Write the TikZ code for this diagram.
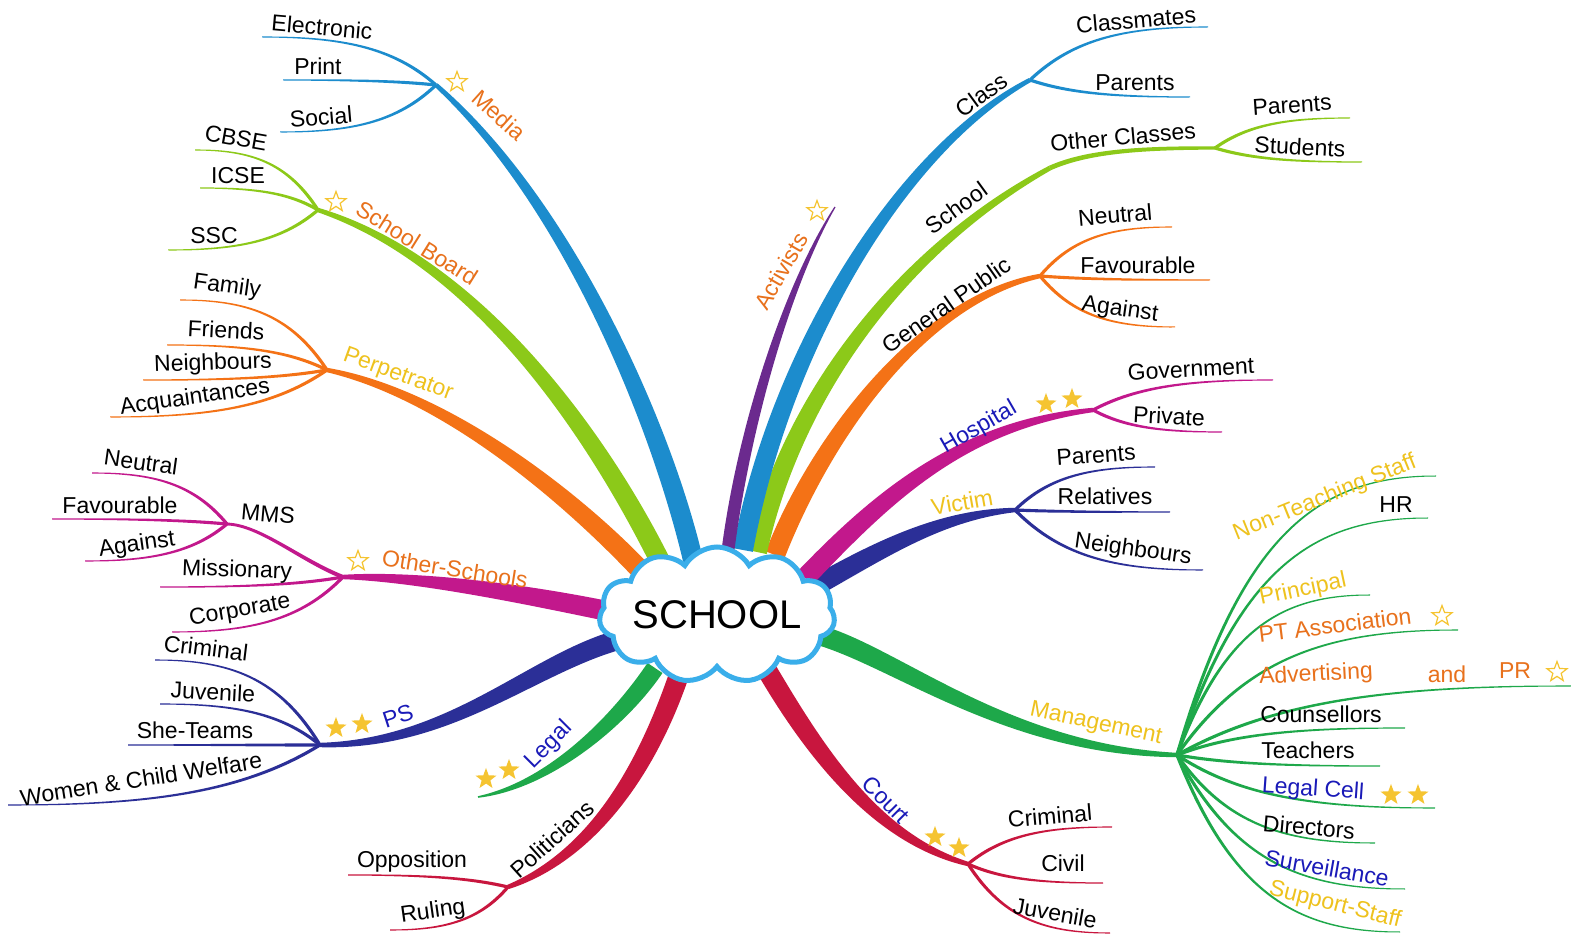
\documentclass[tikz,border=0pt]{standalone}
\usepackage{fontspec}
\setmainfont{Liberation Sans}
\usetikzlibrary{calc,shapes.symbols,shapes.geometric}
\definecolor{cBlue}{HTML}{1C8CCD}
\definecolor{cLime}{HTML}{8CC919}
\definecolor{cOrange}{HTML}{F47216}
\definecolor{cMag}{HTML}{C2188C}
\definecolor{cNavy}{HTML}{2B2F97}
\definecolor{cGreen}{HTML}{1EA84A}
\definecolor{cRed}{HTML}{C8163E}
\definecolor{cPurple}{HTML}{6B2A8E}
\definecolor{tOrange}{HTML}{E8711C}
\definecolor{tYellow}{HTML}{EEC21E}
\definecolor{tBlue}{HTML}{1A1AB8}
\definecolor{starY}{HTML}{F5C431}
\definecolor{cloudC}{HTML}{3AAEEA}
% tapered branch: P0, P1, P2, P3, half width at P0, at P2, at P3, colour
\newcommand\mmbr[8]{%
  \path (#1) coordinate (q0) (#2) coordinate (q1) (#3) coordinate (q2) (#4) coordinate (q3);
  \path ($(q0)!#5!90:(q1)$) coordinate (a0) ($(q0)!#5!-90:(q1)$) coordinate (b0)
        ($(q3)!#7!-90:(q2)$) coordinate (a3) ($(q3)!#7!90:(q2)$) coordinate (b3)
        ($(q3)!#6!-90:(q2)$) coordinate (m3) ($(q3)!#6!90:(q2)$) coordinate (n3);
  \fill[#8] (a0) .. controls ($(q1)+(a0)-(q0)$) and ($(q2)+(m3)-(q3)$) .. (a3)
     -- (b3) .. controls ($(q2)+(n3)-(q3)$) and ($(q1)+(b0)-(q0)$) .. (b0) -- cycle;
}
% thin sub branch: hub, end name, end position, colour
\newcommand\mmsub[4]{%
  \coordinate (#2) at (#3);
  \path let \p1=(#1), \p2=(#2) in
    ({\x1+0.25*(\x2-\x1)},{\y1+0.8*(\y2-\y1)}) coordinate (c1)
    ({\x1+0.55*(\x2-\x1)},{\y2}) coordinate (c2);
  \mmbr{#1}{c1}{c2}{#2}{0.8pt}{0.45pt}{0.25pt}{#4}%
}
\begin{document}
\begin{tikzpicture}[x=0.5pt,y=-0.5pt,
  lbl/.style={inner sep=0pt, font=\fontsize{11.5}{13.8}\selectfont},
  lo/.style={lbl,text=tOrange}, ly/.style={lbl,text=tYellow}, lb/.style={lbl,text=tBlue},
  sf/.style={star,star points=5,star point ratio=2.4,fill=starY,inner sep=0pt,minimum size=11pt},
  so/.style={star,star points=5,star point ratio=2.4,draw=starY,line width=0.6pt,inner sep=0pt,minimum size=10.5pt}]
\useasboundingbox (0,0) rectangle (1571,935);
\fill[white] (0,0) rectangle (1571,935);
% hubs
\coordinate (hMedia) at (436,85);
\coordinate (hBoard) at (318,210);
\coordinate (hPerp) at (327,370);
\coordinate (hOther) at (343,577);
\coordinate (hMMS) at (227,524);
\coordinate (hPS) at (320,745);
\coordinate (eLegal) at (478,797);
\coordinate (hPol) at (508,887);
\coordinate (hCourt) at (968,864);
\coordinate (hMgmt) at (1177,755);
\coordinate (hVictim) at (1015,510);
\coordinate (hHosp) at (1093,410);
\coordinate (hGP) at (1040,276);
\coordinate (hSchool) at (1050,168);
\coordinate (hOC) at (1215,148);
\coordinate (hClass) at (1030,80);
\coordinate (eAct) at (835,207);
% main branches
\mmbr{693,560}{660,420}{565,200}{hMedia}{5pt}{3pt}{1.1pt}{cBlue}
\mmbr{662,565}{600,440}{480,262}{hBoard}{5pt}{3pt}{1.1pt}{cLime}
\mmbr{645,575}{580,505}{450,395}{hPerp}{5pt}{3pt}{1.1pt}{cOrange}
\mmbr{612,612}{530,595}{420,576}{hOther}{5pt}{3pt}{1.1pt}{cMag}
\mmbr{618,640}{530,665}{450,745}{hPS}{5pt}{3pt}{1.1pt}{cNavy}
\mmbr{655,668}{620,720}{550,785}{eLegal}{4.5pt}{2.2pt}{0.4pt}{cGreen}
\mmbr{680,672}{640,790}{580,860}{hPol}{5pt}{3pt}{1.1pt}{cRed}
\mmbr{768,672}{820,760}{880,840}{hCourt}{5pt}{3pt}{1.1pt}{cRed}
\mmbr{822,636}{900,660}{1010,750}{hMgmt}{5pt}{3pt}{1.1pt}{cGreen}
\mmbr{812,588}{880,550}{940,515}{hVictim}{5pt}{3pt}{1.1pt}{cNavy}
\mmbr{805,578}{880,500}{960,425}{hHosp}{5pt}{3pt}{1.1pt}{cMag}
\mmbr{775,555}{820,440}{920,300}{hGP}{5pt}{3pt}{1.1pt}{cOrange}
\mmbr{757,552}{790,400}{900,250}{hSchool}{5pt}{2.8pt}{1.2pt}{cLime}
\mmbr{hSchool}{1090,150}{1150,148}{hOC}{1.2pt}{1pt}{0.8pt}{cLime}
\mmbr{743,550}{780,350}{900,150}{hClass}{5pt}{3pt}{1.1pt}{cBlue}
\mmbr{728,550}{745,420}{790,280}{eAct}{3.2pt}{1.6pt}{0.3pt}{cPurple}
% sub branches
\mmsub{hMedia}{eElec}{262,37}{cBlue}
\mmsub{hMedia}{ePrint}{283,80}{cBlue}
\mmsub{hMedia}{eSocial}{280,132}{cBlue}
\mmsub{hBoard}{eCBSE}{195,150}{cLime}
\mmsub{hBoard}{eICSE}{200,188}{cLime}
\mmsub{hBoard}{eSSC}{168,250}{cLime}
\mmsub{hPerp}{eFam}{180,300}{cOrange}
\mmsub{hPerp}{eFri}{167,345}{cOrange}
\mmsub{hPerp}{eNei}{143,380}{cOrange}
\mmsub{hPerp}{eAcq}{110,417}{cOrange}
\mmbr{hOther}{300,560}{260,525}{hMMS}{1pt}{0.8pt}{0.7pt}{cMag}
\mmsub{hMMS}{eNeuL}{92,473}{cMag}
\mmsub{hMMS}{eFavL}{52,519}{cMag}
\mmsub{hMMS}{eAgaL}{85,561}{cMag}
\mmsub{hOther}{eMiss}{160,587}{cMag}
\mmsub{hOther}{eCorp}{172,632}{cMag}
\mmsub{hPS}{eCrimL}{155,660}{cNavy}
\mmsub{hPS}{eJuvL}{160,704}{cNavy}
\mmsub{hPS}{eShe}{128,745}{cNavy}
\mmsub{hPS}{eWomen}{8,805}{cNavy}
\mmsub{hPol}{eOpp}{348,875}{cRed}
\mmsub{hPol}{eRul}{390,930}{cRed}
\mmsub{hCourt}{eCrimR}{1112,827}{cRed}
\mmsub{hCourt}{eCivil}{1103,883}{cRed}
\mmsub{hCourt}{eJuvR}{1110,933}{cRed}
\mmsub{hMgmt}{eNTS}{1436,476}{cGreen}
\mmsub{hMgmt}{eHR}{1428,518}{cGreen}
\mmsub{hMgmt}{ePrin}{1370,595}{cGreen}
\mmsub{hMgmt}{ePTA}{1458,630}{cGreen}
\mmsub{hMgmt}{eAdv}{1571,686}{cGreen}
\mmsub{hMgmt}{eCoun}{1405,728}{cGreen}
\mmsub{hMgmt}{eTeach}{1380,766}{cGreen}
\mmsub{hMgmt}{eLegC}{1435,808}{cGreen}
\mmsub{hMgmt}{eDir}{1375,843}{cGreen}
\mmsub{hMgmt}{eSurv}{1405,889}{cGreen}
\mmsub{hMgmt}{eSupp}{1400,932}{cGreen}
\mmsub{hVictim}{eParV}{1155,467}{cNavy}
\mmsub{hVictim}{eRel}{1170,512}{cNavy}
\mmsub{hVictim}{eNeiV}{1203,570}{cNavy}
\mmsub{hHosp}{eGov}{1273,380}{cMag}
\mmsub{hHosp}{ePriv}{1222,432}{cMag}
\mmsub{hGP}{eNeuR}{1172,227}{cOrange}
\mmsub{hGP}{eFavR}{1210,280}{cOrange}
\mmsub{hGP}{eAgaR}{1175,327}{cOrange}
\mmsub{hOC}{eParOC}{1350,118}{cLime}
\mmsub{hOC}{eStud}{1362,162}{cLime}
\mmsub{hClass}{eMates}{1208,27}{cBlue}
\mmsub{hClass}{eParC}{1190,97}{cBlue}
% centre
\node[cloud, cloud puffs=11, cloud puff arc=120, cloud ignores aspect, draw=cloudC, line width=2.5pt, fill=white,
      minimum width=112pt, minimum height=68pt, inner sep=0pt, font=\fontsize{20}{24}\selectfont] (school) at (717,615) {SCHOOL};
% main labels
\node[lo, rotate=-42] (tMedia) at (499,115) {Media};
\node[so] (sMedia) at (457,82) {};
\node[lo, rotate=-32] (tBoard) at (417,243) {School Board};
\node[so] (sBoard) at (336,202) {};
\node[ly, rotate=-20] (tPerp) at (398,375) {Perpetrator};
\node[lo, rotate=-9] (tOther) at (455,569) {Other-Schools};
\node[so] (sOther) at (358,561) {};
\node[lb, rotate=18] (tPS) at (398,716) {PS};
\node[sf] (sPS1) at (336,728) {};
\node[sf] (sPS2) at (362,724) {};
\node[lb, rotate=45] (tLegal) at (549,745) {Legal};
\node[sf] (sLeg1) at (486,779) {};
\node[sf] (sLeg2) at (509,770) {};
\node[lbl, rotate=42] (tPol) at (552,839) {Politicians};
\node[lb, rotate=-45] (tCourt) at (886,800) {Court};
\node[sf] (sCourt1) at (935,837) {};
\node[sf] (sCourt2) at (959,848) {};
\node[ly, rotate=-12] (tMgmt) at (1096,724) {Management};
\node[ly, rotate=10] (tVictim) at (962,502) {Victim};
\node[lb, rotate=30] (tHosp) at (979,428) {Hospital};
\node[sf] (sHosp1) at (1046,404) {};
\node[sf] (sHosp2) at (1072,399) {};
\node[lbl, rotate=35] (tGP) at (946,305) {General Public};
\node[lbl, rotate=36] (tSchool) at (956,208) {School};
\node[lbl, rotate=36] (tClass) at (981,95) {Class};
\node[lo, rotate=60] (tAct) at (781,271) {Activists};
\node[so] (sAct) at (817,211) {};
% sub labels
\node[lbl, rotate=-5] (tElec) at (322,27) {Electronic};
\node[lbl] (tPrint) at (318,66) {Print};
\node[lbl, rotate=5] (tSocial) at (321,117) {Social};
\node[lbl, rotate=-10] (tCBSE) at (236,138) {CBSE};
\node[lbl] (tICSE) at (238,176) {ICSE};
\node[lbl] (tSSC) at (214,236) {SSC};
\node[lbl, rotate=-8] (tFam) at (227,287) {Family};
\node[lbl, rotate=-3] (tFri) at (226,330) {Friends};
\node[lbl, rotate=2] (tNei) at (213,364) {Neighbours};
\node[lbl, rotate=8] (tAcq) at (195,398) {Acquaintances};
\node[lbl, rotate=-5] (tMMS) at (268,514) {MMS};
\node[lbl, rotate=-8] (tNeuL) at (141,462) {Neutral};
\node[lbl] (tFavL) at (120,505) {Favourable};
\node[lbl, rotate=8] (tAgaL) at (137,545) {Against};
\node[lbl, rotate=-2] (tMiss) at (237,571) {Missionary};
\node[lbl, rotate=10] (tCorp) at (240,611) {Corporate};
\node[lbl, rotate=-7] (tCrimL) at (206,648) {Criminal};
\node[lbl, rotate=-3] (tJuvL) at (213,692) {Juvenile};
\node[lbl] (tShe) at (195,730) {She-Teams};
\node[lbl, rotate=9] (tWomen) at (141,779) {Women \& Child Welfare};
\node[lbl] (tOpp) at (412,862) {Opposition};
\node[lbl, rotate=8] (tRul) at (433,912) {Ruling};
\node[lbl, rotate=5] (tCrimR) at (1050,816) {Criminal};
\node[lbl] (tCivil) at (1063,863) {Civil};
\node[lbl, rotate=-10] (tJuvR) at (1055,913) {Juvenile};
\node[ly, rotate=22] (tNTS) at (1325,498) {Non-Teaching Staff};
\node[lbl] (tHR) at (1396,505) {HR};
\node[ly, rotate=12] (tPrin) at (1303,590) {Principal};
\node[lo, rotate=7] (tPTA) at (1335,625) {PT Association};
\node[so] (sPTA) at (1442,616) {};
\node[lo, rotate=3] (tAdv) at (1316,675) {Advertising};
\node[lo] (tAnd) at (1447,674) {and};
\node[lo] (tPR) at (1515,671) {PR};
\node[so] (sAdv) at (1557,672) {};
\node[lbl] (tCoun) at (1321,714) {Counsellors};
\node[lbl] (tTeach) at (1308,750) {Teachers};
\node[lb, rotate=-4] (tLegC) at (1313,790) {Legal Cell};
\node[sf] (sLegC1) at (1391,795) {};
\node[sf] (sLegC2) at (1418,795) {};
\node[lbl, rotate=-5] (tDir) at (1309,827) {Directors};
\node[lb, rotate=-10] (tSurv) at (1327,868) {Surveillance};
\node[ly, rotate=-14] (tSupp) at (1335,905) {Support-Staff};
\node[lbl, rotate=4] (tParV) at (1096,455) {Parents};
\node[lbl] (tRel) at (1105,496) {Relatives};
\node[lbl, rotate=-8] (tNeiV) at (1133,550) {Neighbours};
\node[lbl, rotate=3] (tGov) at (1191,369) {Government};
\node[lbl, rotate=-3] (tPriv) at (1169,416) {Private};
\node[lbl, rotate=5] (tNeuR) at (1115,215) {Neutral};
\node[lbl] (tFavR) at (1138,265) {Favourable};
\node[lbl, rotate=-8] (tAgaR) at (1120,310) {Against};
\node[lbl, rotate=5] (tOC) at (1123,137) {Other Classes};
\node[lbl, rotate=4] (tParOC) at (1292,105) {Parents};
\node[lbl, rotate=-3] (tStud) at (1300,147) {Students};
\node[lbl, rotate=5] (tMates) at (1136,20) {Classmates};
\node[lbl] (tParC) at (1135,83) {Parents};
\end{tikzpicture}
\end{document}
